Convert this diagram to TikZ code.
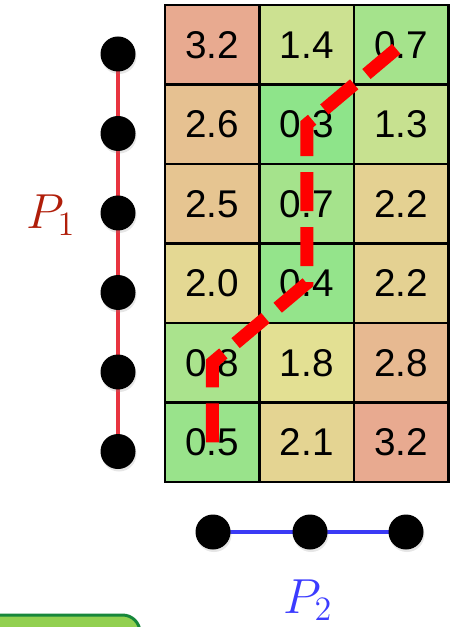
\documentclass[tikz,border=0pt]{standalone}
\usepackage{fontspec}
\setsansfont{Liberation Sans}
\usepackage{xcolor}
\definecolor{pathred}{HTML}{E8343F}
\definecolor{pathblue}{HTML}{3A3AF5}
\definecolor{labelred}{HTML}{B01E0A}
\definecolor{labelblue}{HTML}{3B3BFF}
\definecolor{costgreen}{HTML}{8EE48A}
\definecolor{costyellow}{HTML}{E3E093}
\definecolor{costred}{HTML}{E8AA90}
\definecolor{boxgreen}{HTML}{92D050}
\definecolor{boxborder}{HTML}{17873A}
\usetikzlibrary{shadows}

\begin{document}
\begin{tikzpicture}[cell/.style={draw=black, line width=1.4pt, minimum width=1.89cm, minimum height=1.59cm, inner sep=0pt, font=\sffamily\fontsize{22}{26}\selectfont},
    dot/.style={fill=black, drop shadow={shadow xshift=0.02cm, shadow yshift=-0.05cm, opacity=0.2}},
    warp/.style={red, line width=7.4pt, dash pattern=on 0.78cm off 0.32cm}]
      \useasboundingbox (0,0) rectangle (9,-12.54);

      % cost matrix
      \foreach \row [count=\r] in {{3.2,1.4,0.7},{2.6,0.3,1.3},{2.5,0.7,2.2},{2.0,0.4,2.2},{0.8,1.8,2.8},{0.5,2.1,3.2}} {
        \foreach \v [count=\c] in \row {
          \pgfmathsetmacro\pg{min(100,max(0,(\v-0.3)/1.5*100))}
          \pgfmathsetmacro\q{100-min(100,max(0,(\v-1.8)/1.4*100))}
          \node[cell, fill=costyellow!\pg!costgreen!\q!costred] (c-\r-\c) at ({4.245+(\c-1)*1.89},{-0.895-(\r-1)*1.59}) {\v};
        }
      }

      % warping path
      \draw[warp] (c-6-1.center) -- (c-5-1.center) -- (c-4-2.center) -- (c-2-2.center) -- (c-1-3.center);

      % P_1
      \foreach \i in {1,...,6}
        \coordinate (a\i) at (2.36,{-1.08-(\i-1)*1.59});
      \draw[pathred, line width=2.8pt] (a1) -- (a6);
      \foreach \i in {1,...,6}
        \fill[dot] (a\i) circle [radius=0.35cm];
      \node[text=labelred, font=\huge, scale=1.35] (p1) at (1.02,-4.3) {\(P_1\)};

      % P_2
      \coordinate (b1) at (4.26,-10.64);
      \coordinate (b2) at (6.2,-10.64);
      \coordinate (b3) at (8.12,-10.64);
      \draw[pathblue, line width=2.8pt] (b1) -- (b3);
      \foreach \i in {1,2,3}
        \fill[dot] (b\i) circle [radius=0.35cm];
      \node[text=labelblue, font=\huge, scale=1.35] (p2) at (6.16,-12.0) {\(P_2\)};

      \draw[boxborder, fill=boxgreen, line width=1.7pt, rounded corners=0.35cm] (-0.5,-12.3) rectangle (2.8,-13.5);
    \end{tikzpicture}
\end{document}
